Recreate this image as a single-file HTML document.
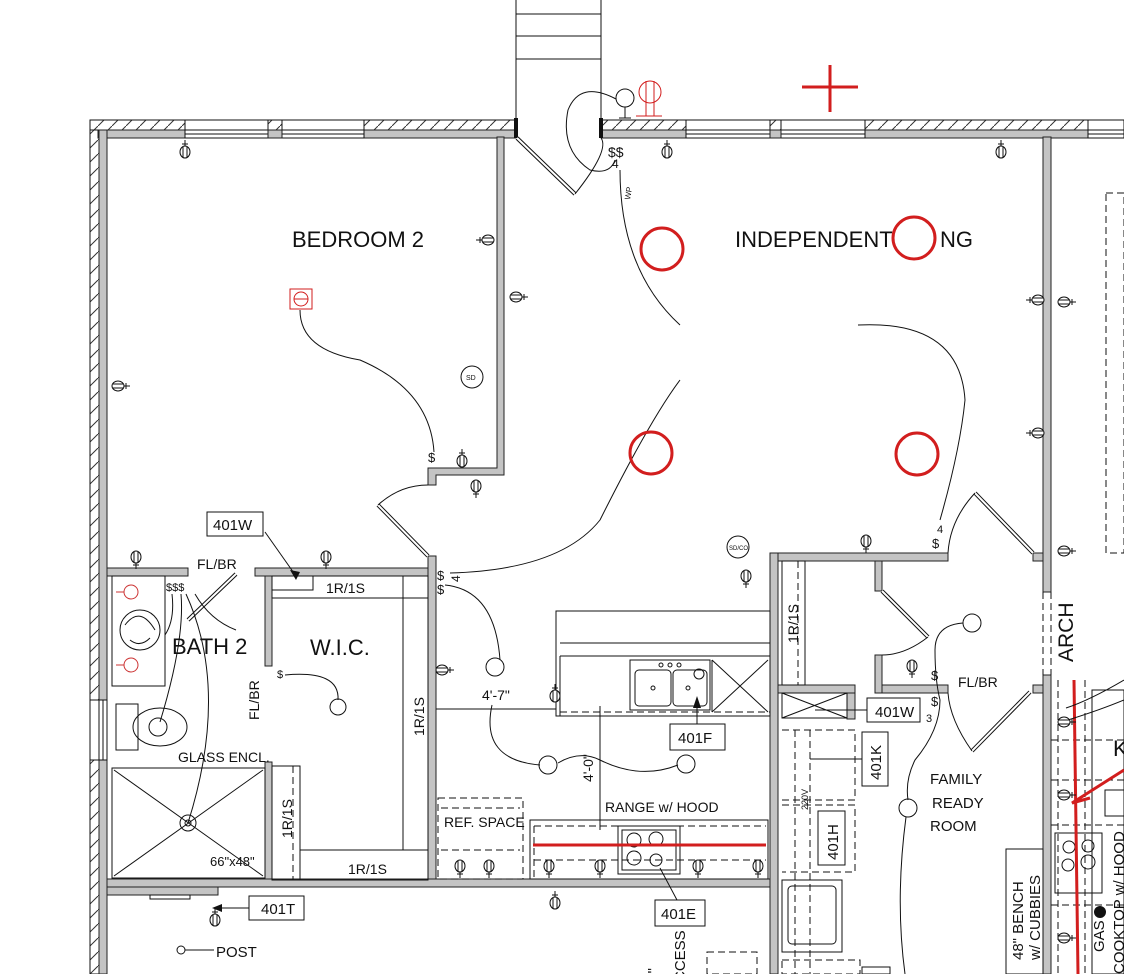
<!DOCTYPE html>
<html><head><meta charset="utf-8"><style>
html,body{margin:0;padding:0;background:#fff;width:1124px;height:974px;overflow:hidden}
svg{display:block}
text{font-family:"Liberation Sans",sans-serif;fill:#111}
.g{fill:#c4c4c4;stroke:#222;stroke-width:1}
.l{fill:none;stroke:#111;stroke-width:1}
.d{fill:none;stroke:#111;stroke-width:1;stroke-dasharray:7 4}
.w{fill:none;stroke:#111;stroke-width:1}
.r{fill:none;stroke:#d21e1e;stroke-width:3}
</style></head><body>
<svg width="1124" height="974" viewBox="0 0 1124 974" xmlns="http://www.w3.org/2000/svg">
<defs>
<pattern id="h" width="14" height="14" patternUnits="userSpaceOnUse"><path d="M0 14 L14 0" stroke="#333" stroke-width="1"/></pattern>
<symbol id="o" viewBox="-8 -12 16 20" overflow="visible"><path d="M0 -12 V-5 M-3 -8 H3" stroke="#111" fill="none"/><ellipse cx="0" cy="0" rx="5" ry="6" fill="#fff" stroke="#111"/><path d="M-2 -5 V5 M2 -5 V5" stroke="#111"/></symbol>
</defs>

<!-- stair -->
<path class="l" d="M516 0 V120 M601 0 V120 M516 14 H601 M516 36 H601 M516 59 H601"/>

<!-- top wall -->
<rect x="90" y="120" width="1034" height="10" fill="url(#h)" stroke="#111"/>
<rect x="98" y="130" width="1026" height="8" class="g"/>
<rect x="516" y="119" width="85" height="20" fill="#fff"/>
<rect x="514" y="118" width="4" height="20" fill="#111"/><rect x="599" y="118" width="4" height="20" fill="#111"/>
<g fill="#fff" stroke="#111">
<rect x="185" y="120" width="83" height="18"/><rect x="282" y="120" width="82" height="18"/>
<rect x="686" y="120" width="84" height="18"/><rect x="781" y="120" width="84" height="18"/>
<rect x="1088" y="120" width="36" height="18"/>
</g>
<path class="l" d="M185 130 H268 M185 134 H268 M282 130 H364 M282 134 H364 M686 130 H770 M686 134 H770 M781 130 H865 M781 134 H865 M1088 130 H1124 M1088 134 H1124"/>
<rect x="268" y="130" width="14" height="8" class="g"/><rect x="770" y="130" width="11" height="8" class="g"/>

<!-- left wall -->
<rect x="90" y="130" width="9" height="844" fill="url(#h)" stroke="#111"/>
<rect x="99" y="130" width="8" height="844" class="g"/>
<rect x="90" y="700" width="17" height="60" fill="#fff" stroke="#111"/>
<path class="l" d="M99 700 V760 M103 700 V760"/>

<path class="g" d="M497 137 H504 V475 H436 V485 H428 V468 H497 Z"/>
<rect x="107" y="568" width="81" height="8" class="g"/>
<rect x="255" y="568" width="180" height="8" class="g"/>
<rect x="428" y="556" width="8" height="330" class="g"/>
<rect x="265" y="576" width="7" height="90" class="g"/>
<rect x="265" y="762" width="7" height="118" class="g"/>
<rect x="107" y="879" width="671" height="8" class="g"/>
<rect x="107" y="887" width="111" height="8" class="g"/>
<rect x="150" y="895" width="40" height="4" fill="#fff" stroke="#111"/>
<rect x="770" y="553" width="8" height="421" class="g"/>
<rect x="778" y="553" width="170" height="8" class="g"/>
<rect x="875" y="561" width="7" height="30" class="g"/>
<rect x="875" y="655" width="7" height="38" class="g"/>
<rect x="882" y="685" width="66" height="8" class="g"/>
<rect x="778" y="685" width="77" height="8" class="g"/>
<rect x="847" y="693" width="8" height="26" class="g"/>
<rect x="1043" y="137" width="8" height="455" class="g"/>
<rect x="1043" y="675" width="8" height="299" class="g"/>
<rect x="1033" y="553" width="10" height="8" class="g"/><rect x="1033" y="685" width="10" height="8" class="g"/>
<path class="d" d="M1043 592 V675 M1051 592 V675"/>
<rect x="1106" y="193" width="18" height="360" class="d"/>

<!-- doors -->
<path d="M517 138 L575 194" stroke="#111" stroke-width="4"/><path d="M517 138 L575 194" stroke="#fff" stroke-width="2"/>
<path class="l" d="M575 194 Q610 150 601 138"/>
<path d="M378 505 L428 556" stroke="#111" stroke-width="4"/><path d="M378 505 L428 556" stroke="#fff" stroke-width="2"/>
<path class="l" d="M378 505 Q400 485 428 485"/>
<path d="M188 620 L236 574" stroke="#111" stroke-width="4"/><path d="M188 620 L236 574" stroke="#fff" stroke-width="2"/>
<path d="M882 591 L928 637" stroke="#111" stroke-width="4"/><path d="M882 591 L928 637" stroke="#fff" stroke-width="2"/>
<path class="l" d="M928 637 Q905 655 882 655"/>
<path d="M975 493 L1033 553" stroke="#111" stroke-width="4"/><path d="M975 493 L1033 553" stroke="#fff" stroke-width="2"/>
<path class="l" d="M975 493 Q950 520 948 553"/>
<path d="M1030 692 L972 751" stroke="#111" stroke-width="4"/><path d="M1030 692 L972 751" stroke="#fff" stroke-width="2"/>
<path class="l" d="M972 751 Q950 720 948 693"/>

<!-- WIC -->
<rect x="272" y="576" width="156" height="22" class="l"/>
<path class="d" d="M272 598 H428 M403 576 V850 M293 766 V880 M300 850 H428"/>
<rect x="272" y="766" width="28" height="114" class="l"/>
<rect x="300" y="850" width="128" height="30" class="l"/>
<rect x="403" y="576" width="25" height="274" class="l"/>
<path class="l" d="M272 576 V590 H313 V576"/>
<text x="326" y="593" font-size="14">1R/1S</text>
<text x="348" y="874" font-size="14">1R/1S</text>
<text transform="translate(424 736) rotate(-90)" font-size="14">1R/1S</text>
<text transform="translate(292 838) rotate(-90)" font-size="14">1R/1S</text>
<text transform="translate(259 720) rotate(-90)" font-size="14">FL/BR</text>
<text x="310" y="655" font-size="22">W.I.C.</text>
<path class="l" d="M285 675 Q340 670 338 700"/><circle cx="338" cy="707" r="8" class="l"/>
<text x="277" y="678" font-size="11">$</text>

<!-- Bath -->
<rect x="112" y="576" width="53" height="110" class="l"/>
<circle cx="140" cy="630" r="20" class="l"/><path class="l" d="M125 625 Q140 605 155 630 M130 640 Q140 648 150 638"/>
<circle cx="131" cy="592" r="7" stroke="#c33" fill="none"/><circle cx="131" cy="665" r="7" stroke="#c33" fill="none"/>
<path d="M116 592 H124 M116 665 H124" stroke="#c33"/>
<rect x="116" y="704" width="22" height="46" class="l"/>
<ellipse cx="160" cy="727" rx="27" ry="19" class="l"/><circle cx="158" cy="727" r="9" class="l"/>
<text x="172" y="654" font-size="22">BATH 2</text>
<text x="178" y="762" font-size="14">GLASS ENCL.</text>
<rect x="112" y="768" width="153" height="110" class="l"/>
<path class="l" d="M114 770 L263 876 M263 770 L114 876"/>
<circle cx="188" cy="823" r="8" class="l"/><circle cx="188" cy="823" r="3" class="l"/>
<text x="210" y="866" font-size="13">66"x48"</text>
<text x="166" y="591" font-size="11">$$$</text>
<path class="l" d="M172 594 Q175 620 165 635 M181 594 Q185 640 160 722 M186 594 Q230 690 188 823 M195 594 Q210 620 236 630"/>
<text x="197" y="569" font-size="14">FL/BR</text>

<rect x="207" y="512" width="56" height="24" class="l"/><text x="213" y="530" font-size="15">401W</text>
<path class="l" d="M265 532 L296 576"/><path d="M296 580 L290 570 L300 572Z" fill="#111"/>
<rect x="249" y="896" width="55" height="24" class="l"/><text x="261" y="914" font-size="15">401T</text>
<path class="l" d="M249 908 H215"/><path d="M212 908 L222 904 V912Z" fill="#111"/>
<use href="#o" x="207" y="908" width="16" height="20"/>
<circle cx="181" cy="950" r="4" class="l"/><path class="l" d="M185 950 H214"/><text x="216" y="957" font-size="15">POST</text>

<!-- kitchen island -->
<rect x="556" y="611" width="214" height="105" class="l"/>
<path class="l" d="M560 643 H770 M560 656 H770 M560 656 V716"/>
<path class="d" d="M560 712 H770 M560 656 V712"/>
<rect x="630" y="660" width="80" height="50" class="l"/>
<rect x="635" y="670" width="36" height="36" rx="4" class="l"/><rect x="673" y="670" width="34" height="36" rx="4" class="l"/>
<circle cx="653" cy="688" r="2" class="l"/><circle cx="688" cy="688" r="2" class="l"/>
<circle cx="661" cy="665" r="2" class="l"/><circle cx="670" cy="665" r="2" class="l"/><circle cx="679" cy="665" r="2" class="l"/>
<circle cx="699" cy="674" r="5" class="l"/>
<path class="l" d="M712 660 L768 712 M768 660 L712 712 M712 660 V712"/>
<rect x="670" y="724" width="55" height="26" class="l"/><text x="678" y="743" font-size="15">401F</text>
<path class="l" d="M697 724 V698"/><path d="M697 696 L693 708 H701Z" fill="#111"/>
<use href="#o" x="547" y="684" width="16" height="20"/>
<path class="l" d="M436 709 H556 M600 706 V830"/>
<text x="482" y="700" font-size="14">4'-7"</text>
<text transform="translate(593 782) rotate(-90)" font-size="14">4'-0"</text>
<rect x="530" y="820" width="238" height="59" class="l"/>
<path class="d" d="M534 826 H766 M534 860 H766 M534 826 V879"/>
<rect x="438" y="798" width="85" height="81" class="d"/>
<path class="d" d="M441 808 H520 M441 850 H520"/>
<text x="444" y="827" font-size="14">REF. SPACE</text>
<text x="605" y="812" font-size="14">RANGE w/ HOOD</text>
<rect x="618" y="826" width="62" height="48" class="l"/><rect x="622" y="830" width="54" height="40" class="l"/>
<circle cx="634" cy="840" r="7" class="l"/><circle cx="656" cy="839" r="7" class="l"/><circle cx="634" cy="858" r="7" class="l"/><circle cx="656" cy="860" r="6" class="l"/>
<path d="M533 845 H766" stroke="#d21e1e" stroke-width="3"/>
<rect x="655" y="900" width="50" height="26" class="l"/><text x="661" y="919" font-size="15">401E</text>
<path class="l" d="M677 900 L660 868"/>

<text x="437" y="580" font-size="13">$</text><text x="437" y="594" font-size="13">$</text><text x="451" y="583" font-size="12" transform="rotate(-90 455 578)">4</text>
<path class="l" d="M445 585 Q495 590 500 660"/><circle cx="495" cy="667" r="9" class="l"/>
<path class="l" d="M492 705 Q480 760 540 765"/><circle cx="548" cy="765" r="9" class="l"/>
<path class="l" d="M558 763 Q580 750 600 760 Q640 780 678 765"/><circle cx="686" cy="764" r="9" class="l"/>
<path class="l" d="M450 573 Q560 570 600 520 Q650 420 680 380"/>

<rect x="290" y="289" width="22" height="20" stroke="#d21e1e" fill="none"/><circle cx="301" cy="299" r="7" stroke="#d21e1e" fill="none"/><path d="M294 299 H308" stroke="#d21e1e"/>
<path class="l" d="M300 310 Q300 350 360 360 Q430 390 434 452"/>
<text x="428" y="462" font-size="13">$</text>
<circle cx="472" cy="377" r="11" class="l"/><text x="466" y="380" font-size="7">SD</text>
<text x="292" y="247" font-size="22">BEDROOM 2</text>

<text x="735" y="247" font-size="22">INDEPENDENT</text>
<text x="940" y="247" font-size="22">NG</text>
<circle cx="662" cy="249" r="21" class="r"/><circle cx="914" cy="238" r="21" class="r"/>
<circle cx="651" cy="453" r="21" class="r"/><circle cx="917" cy="454" r="21" class="r"/>
<path d="M802 87 H858 M830 65 V112" stroke="#d21e1e" stroke-width="3"/>
<circle cx="650" cy="92" r="11" stroke="#d21e1e" fill="none"/><path d="M646 81 V116 M654 81 V116 M636 116 H662" stroke="#d21e1e"/>
<circle cx="625" cy="98" r="9" class="l"/><path class="l" d="M625 107 V118 M619 118 H631"/>
<path class="l" d="M616 99 Q580 80 568 110 Q560 150 590 170 Q610 175 615 160"/>
<text x="608" y="157" font-size="14">$$</text><text x="612" y="168" font-size="12" fill="#244">4</text>
<text x="630" y="200" font-size="8" fill="#c33" transform="rotate(-80 630 200)">WP</text>
<path class="l" d="M620 170 Q620 270 680 325"/>
<path class="l" d="M858 325 Q960 320 965 400 Q960 450 940 520"/>
<text x="932" y="548" font-size="13">$</text><text x="937" y="533" font-size="11">4</text>
<circle cx="738" cy="547" r="11" class="l"/><text x="729" y="550" font-size="6">SD/CO</text>
<text transform="translate(1073 662) rotate(-90)" font-size="21" fill="#333">ARCH</text>

<rect x="782" y="561" width="23" height="124" class="l"/>
<path class="d" d="M798 561 V685"/>
<text transform="translate(798 643) rotate(-90)" font-size="14">1R/1S</text>
<rect x="782" y="693" width="65" height="25" class="l"/><path class="l" d="M782 693 L847 718 M847 693 L782 718"/>
<rect x="867" y="698" width="53" height="24" class="l"/><text x="875" y="717" font-size="15">401W</text>
<path class="l" d="M867 710 H815"/>
<text x="958" y="687" font-size="14">FL/BR</text>
<circle cx="972" cy="623" r="9" class="l"/>
<path class="l" d="M963 623 Q935 625 935 650 Q935 680 940 700 Q940 730 915 760 Q905 780 908 800"/>
<text x="931" y="680" font-size="13">$</text><text x="931" y="706" font-size="13">$</text><text x="926" y="722" font-size="11">3</text>
<circle cx="908" cy="808" r="9" class="l"/>
<path class="l" d="M906 817 Q895 900 905 974"/>
<text x="930" y="784" font-size="15">FAMILY</text><text x="932" y="808" font-size="15">READY</text><text x="930" y="831" font-size="15">ROOM</text>
<path class="d" d="M782 730 H855 V800 H782 M782 805 H855 V872 H782 M795 730 V974 M810 730 V974"/>
<rect x="862" y="732" width="26" height="54" class="l"/><text transform="translate(881 780) rotate(-90)" font-size="15">401K</text>
<path class="l" d="M862 759 H810"/>
<rect x="818" y="811" width="27" height="54" class="l"/><text transform="translate(838 860) rotate(-90)" font-size="15">401H</text>
<text transform="translate(808 810) rotate(-90)" font-size="9">220V</text>
<rect x="782" y="880" width="60" height="72" class="l"/><rect x="788" y="886" width="48" height="58" rx="4" class="l"/>
<rect x="782" y="960" width="78" height="14" class="d"/><rect x="862" y="967" width="28" height="7" class="l"/>
<rect x="1006" y="849" width="37" height="125" class="l"/>
<text transform="translate(1023 960) rotate(-90)" font-size="15">48" BENCH</text>
<text transform="translate(1040 960) rotate(-90)" font-size="15">w/ CUBBIES</text>
<text transform="translate(658 990) rotate(-90)" font-size="15">32"</text>
<text transform="translate(685 992) rotate(-90)" font-size="15">ACCESS</text>
<rect x="707" y="952" width="50" height="22" class="d"/>

<path class="d" d="M1058 680 V974 M1085 680 V974 M1051 740 H1124 M1051 780 H1124 M1051 825 H1124 M1051 905 H1124"/>
<rect x="1092" y="690" width="32" height="284" class="l"/>
<rect x="1055" y="833" width="47" height="60" class="l"/>
<circle cx="1069" cy="847" r="6" class="l"/><circle cx="1088" cy="846" r="6" class="l"/><circle cx="1068" cy="865" r="6" class="l"/><circle cx="1088" cy="862" r="7" class="l"/>
<text x="1113" y="756" font-size="22">K</text>
<rect x="1105" y="790" width="19" height="26" class="l"/>
<text transform="translate(1104 952) rotate(-90)" font-size="15">GAS</text>
<text transform="translate(1124 974) rotate(-90)" font-size="15">COOKTOP w/ HOOD</text>
<circle cx="1100" cy="912" r="6" fill="#111"/>
<path d="M1074 680 L1078 974" stroke="#d21e1e" stroke-width="3"/>
<path d="M1124 770 L1072 803 L1090 798" stroke="#d21e1e" stroke-width="3" fill="none"/>
<path class="l" d="M1066 708 Q1090 700 1124 680 M1068 720 Q1100 710 1124 700"/>

<g>
<use href="#o" x="177" y="140" width="16" height="20"/>
<use href="#o" x="659" y="140" width="16" height="20"/>
<use href="#o" x="993" y="140" width="16" height="20"/>
<use href="#o" x="454" y="449" width="16" height="20"/>
<use href="#o" x="128" y="549" width="16" height="20" transform="rotate(180 136 559)"/>
<use href="#o" x="318" y="549" width="16" height="20" transform="rotate(180 326 559)"/>
<use href="#o" x="858" y="533" width="16" height="20" transform="rotate(180 866 543)"/>
<use href="#o" x="468" y="478" width="16" height="20" transform="rotate(180 476 488)"/>
<use href="#o" x="738" y="568" width="16" height="20" transform="rotate(180 746 578)"/>
<use href="#o" x="112" y="376" width="16" height="20" transform="rotate(90 120 386)"/>
<use href="#o" x="478" y="230" width="16" height="20" transform="rotate(-90 486 240)"/>
<use href="#o" x="510" y="287" width="16" height="20" transform="rotate(90 518 297)"/>
<use href="#o" x="1028" y="290" width="16" height="20" transform="rotate(-90 1036 300)"/>
<use href="#o" x="1028" y="423" width="16" height="20" transform="rotate(-90 1036 433)"/>
<use href="#o" x="1058" y="292" width="16" height="20" transform="rotate(90 1066 302)"/>
<use href="#o" x="1058" y="541" width="16" height="20" transform="rotate(90 1066 551)"/>
<use href="#o" x="436" y="660" width="16" height="20" transform="rotate(90 444 670)"/>
<use href="#o" x="904" y="658" width="16" height="20" transform="rotate(180 912 668)"/>
<use href="#o" x="452" y="858" width="16" height="20" transform="rotate(180 460 868)"/>
<use href="#o" x="481" y="858" width="16" height="20" transform="rotate(180 489 868)"/>
<use href="#o" x="541" y="858" width="16" height="20" transform="rotate(180 549 868)"/>
<use href="#o" x="592" y="858" width="16" height="20" transform="rotate(180 600 868)"/>
<use href="#o" x="690" y="858" width="16" height="20" transform="rotate(180 698 868)"/>
<use href="#o" x="750" y="858" width="16" height="20" transform="rotate(180 758 868)"/>
<use href="#o" x="547" y="891" width="16" height="20"/>
<use href="#o" x="1058" y="712" width="16" height="20" transform="rotate(90 1066 722)"/>
<use href="#o" x="1058" y="785" width="16" height="20" transform="rotate(90 1066 795)"/>
<use href="#o" x="1058" y="928" width="16" height="20" transform="rotate(90 1066 938)"/>
</g>
</svg>
</body></html>
